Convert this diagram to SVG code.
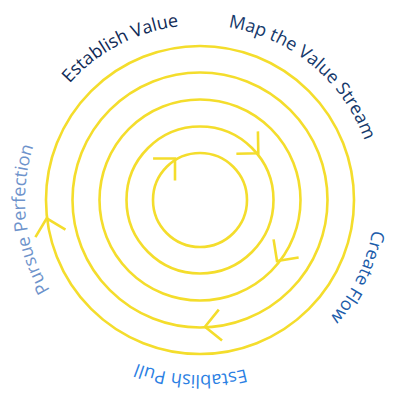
<svg xmlns="http://www.w3.org/2000/svg" xmlns:xlink="http://www.w3.org/1999/xlink" width="400" height="400" viewBox="0 0 400 400">
<style>
.ring{fill:none;stroke:#f4dd2c;stroke-width:2.6}
.arr{fill:none;stroke:#f4dd2c;stroke-width:2.6;stroke-linecap:butt;stroke-linejoin:miter}
.lbl{font-family:"Open Sans","Liberation Sans",sans-serif;font-size:18px}
</style>
<defs>
<path id="chev" d="M-15.5,-15.5 L0,0 L-15.5,15.5"/>
<path id="lp" d="M200,25 A175,175 0 1,1 200,375 A175,175 0 1,1 200,25"/>
</defs>
<rect width="400" height="400" fill="#ffffff"/>
<g id="rings">
<circle class="ring" cx="200" cy="200" r="47"/>
<circle class="ring" cx="200" cy="200" r="73.5"/>
<circle class="ring" cx="200" cy="200" r="100.5"/>
<circle class="ring" cx="200" cy="200" r="127.5"/>
<circle class="ring" cx="200" cy="200" r="154"/>
</g>
<g id="connectors" class="arr">
<use xlink:href="#chev" transform="translate(175,158.5) rotate(-45)"/>
<use xlink:href="#chev" transform="translate(258.3,153.3) rotate(44)"/>
<use xlink:href="#chev" transform="translate(277,261) rotate(126)"/>
<use xlink:href="#chev" transform="translate(205,326.7) rotate(174)"/>
<use xlink:href="#chev" transform="translate(46.7,218.3) rotate(-104)"/>
</g>
<g id="establish-value"><text class="lbl" fill="#102a56" text-anchor="middle"><textPath xlink:href="#lp" startOffset="1014.8">Establish Value</textPath></text></g>
<g id="map-value-stream"><text class="lbl" fill="#15396b" text-anchor="middle"><textPath xlink:href="#lp" startOffset="121.4">Map the Value Stream</textPath></text></g>
<g id="create-flow"><text class="lbl" fill="#1b5caa" text-anchor="middle"><textPath xlink:href="#lp" startOffset="354.3">Create Flow</textPath></text></g>
<g id="establish-pull"><text class="lbl" fill="#2b80e3" text-anchor="middle"><textPath xlink:href="#lp" startOffset="558.7">Establish Pull</textPath></text></g>
<g id="pursue-perfection"><text class="lbl" fill="#6e93cb" text-anchor="middle"><textPath xlink:href="#lp" startOffset="804.3">Pursue Perfection</textPath></text></g>
</svg>
